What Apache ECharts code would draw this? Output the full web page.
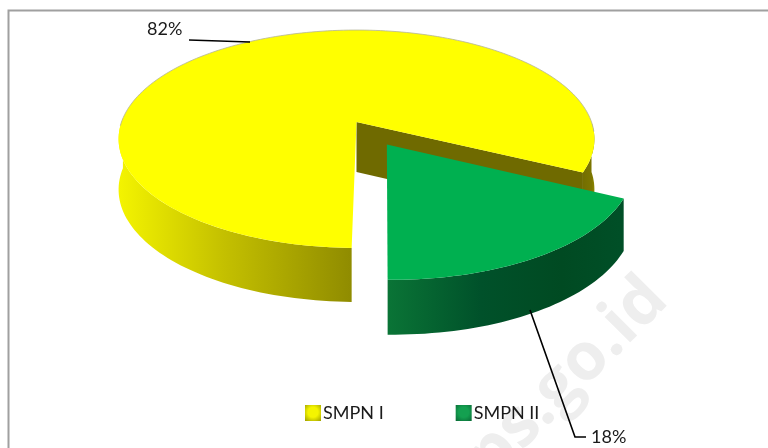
<!DOCTYPE html>
<html>
<head>
<meta charset="utf-8">
<style>html,body{margin:0;padding:0;background:#fff}#c{width:768px;height:448px}</style>
<script src="https://cdn.jsdelivr.net/npm/echarts@6/dist/echarts.min.js"></script>
</head>
<body>
<div id="c"></div>
<script>
const categories = ['SMPN I', 'SMPN II'];
const percentValues = [82, 18];
const seriesColors = ['#ffff00', '#00b050'];

const FONT = 'Lato, "Open Sans", sans-serif';
const APEX = [356.5, 122], A = 235, B = 106.3, P = 0.156;
const START_DEG = 181;

function project(u, v, drop) {
  const w = 1 - P * v;
  return [APEX[0] + A * u / w, APEX[1] + B * v / w + (drop ? 50 / Math.pow(w, 0.45) : 0)];
}
function rimPoint(deg, off, drop) {
  const r = deg * Math.PI / 180;
  return project(off[0] + Math.sin(r), off[1] - Math.cos(r), drop);
}
function arc(from, to, off, drop) {
  const n = Math.max(2, Math.ceil(Math.abs(to - from) / 1.5)), out = [];
  for (let i = 0; i <= n; i++) out.push(rimPoint(from + (to - from) * i / n, off, drop));
  return out;
}
function poly(points, style, z2) {
  return { type: 'polygon', shape: { points }, style, z2: z2 || 0 };
}
function hGrad(stops, x0, x1) {
  return { type: 'linear', x: x0, y: 0, x2: x1, y2: 0, global: true,
    colorStops: stops.map(s => ({ offset: s[0], color: s[1] })) };
}
function bevel(centre, edge) {
  return { type: 'radial', x: 0.5, y: 0.45, r: 0.7,
    colorStops: [{ offset: 0, color: centre }, { offset: 0.45, color: centre }, { offset: 1, color: edge }] };
}
function wall(from, to, off, fill) {
  return poly(arc(from, to, off, false).concat(arc(to, from, off, true)), { fill });
}
function line(points, stroke, lineWidth, z2) {
  return { type: 'polyline', shape: { points }, style: { fill: null, stroke, lineWidth }, z2 };
}
function label(text, x, y) {
  return { type: 'text', x, y, z2: 6,
    style: { text, font: '18px ' + FONT, fill: '#1a1a1a', textAlign: 'left', textVerticalAlign: 'middle' } };
}

function renderFirst(params, api) {
  const v = api.value(0);
  const sweep = v / 100 * 360, start = START_DEG, end = start + sweep;
  const off = [0, 0];
  const c = project(0, 0, false), cd = project(0, 0, true);
  const corner = rimPoint(end, off, false), cornerD = rimPoint(end, off, true);
  const top = [c].concat(arc(start, end, off, false));
  return { type: 'group', children: [
    poly([c, corner, cornerD, cd], { fill: '#6f6a00' }),
    wall(end - 360, 90, off, hGrad([[0, '#6f6a00'], [0.8, '#7c7600'], [1, '#8f8a00']], 578, 595)),
    wall(start, 272, off, hGrad([[0, '#8f8b00'], [0.55, '#c4c000'], [1, '#f4f400']], 353, 118)),
    poly(top, { fill: '#ffff00' }, 1),
    line(arc(268, 360 + 95, off, false), '#b4b49a', 0.8, 2),
    line([[189, 40], [250, 42]], '#000', 1.6, 5),
    label(v + '%', 147, 29)
  ] };
}
function renderSecond(params, api) {
  const v = api.value(0);
  const sweep = v / 100 * 360, start = START_DEG - sweep, end = START_DEG;
  const off = [0.125, 0.205];
  const c = project(off[0], off[1], false);
  const top = [c].concat(arc(start, end, off, false));
  return { type: 'group', children: [
    wall(start, end, off, hGrad([[0, '#0a7436'], [0.4, '#00512a'], [0.75, '#004a22'], [1, '#004f27']], 388, 620)),
    poly(top, { fill: '#00b050' }, 1),
    line([[530, 310], [575, 437], [586, 437]], '#000', 1.6, 5),
    label(v + '%', 591, 437)
  ] };
}

const chart = echarts.init(document.getElementById('c'), null, { renderer: 'canvas' });
chart.setOption({
  animation: false,
  backgroundColor: '#fff',
  graphic: [
    { type: 'polyline', z: -10, shape: { points: [[8.5, 448], [8.5, 10.5], [768, 10.5]] },
      style: { fill: null, stroke: '#a0a0a0', lineWidth: 2 } },
    { type: 'text', z: -10, x: 657, y: 289, rotation: Math.PI / 4,
      style: { text: 'bps.go.id', font: 'bold 66px "Open Sans", sans-serif', fill: '#eeeeee',
        textAlign: 'right', textVerticalAlign: 'middle' } }
  ],
  legend: {
    left: 300, top: 399, itemWidth: 16, itemHeight: 16, itemGap: 72,
    icon: 'rect',
    data: [
      { name: categories[0], itemStyle: { color: bevel('#f4f400', '#a6a600') } },
      { name: categories[1], itemStyle: { color: bevel('#14a050', '#0a6e38') } }
    ],
    textStyle: { fontFamily: FONT, fontSize: 18, color: '#1a1a1a', padding: [0, 0, 3, -3] }
  },
  series: [
    { name: categories[0], type: 'custom', coordinateSystem: 'none', renderItem: renderFirst,
      data: [[percentValues[0]]], itemStyle: { color: seriesColors[0] }, z: 2, silent: true },
    { name: categories[1], type: 'custom', coordinateSystem: 'none', renderItem: renderSecond,
      data: [[percentValues[1]]], itemStyle: { color: seriesColors[1] }, z: 3, silent: true }
  ]
});
</script>
</body>
</html>
